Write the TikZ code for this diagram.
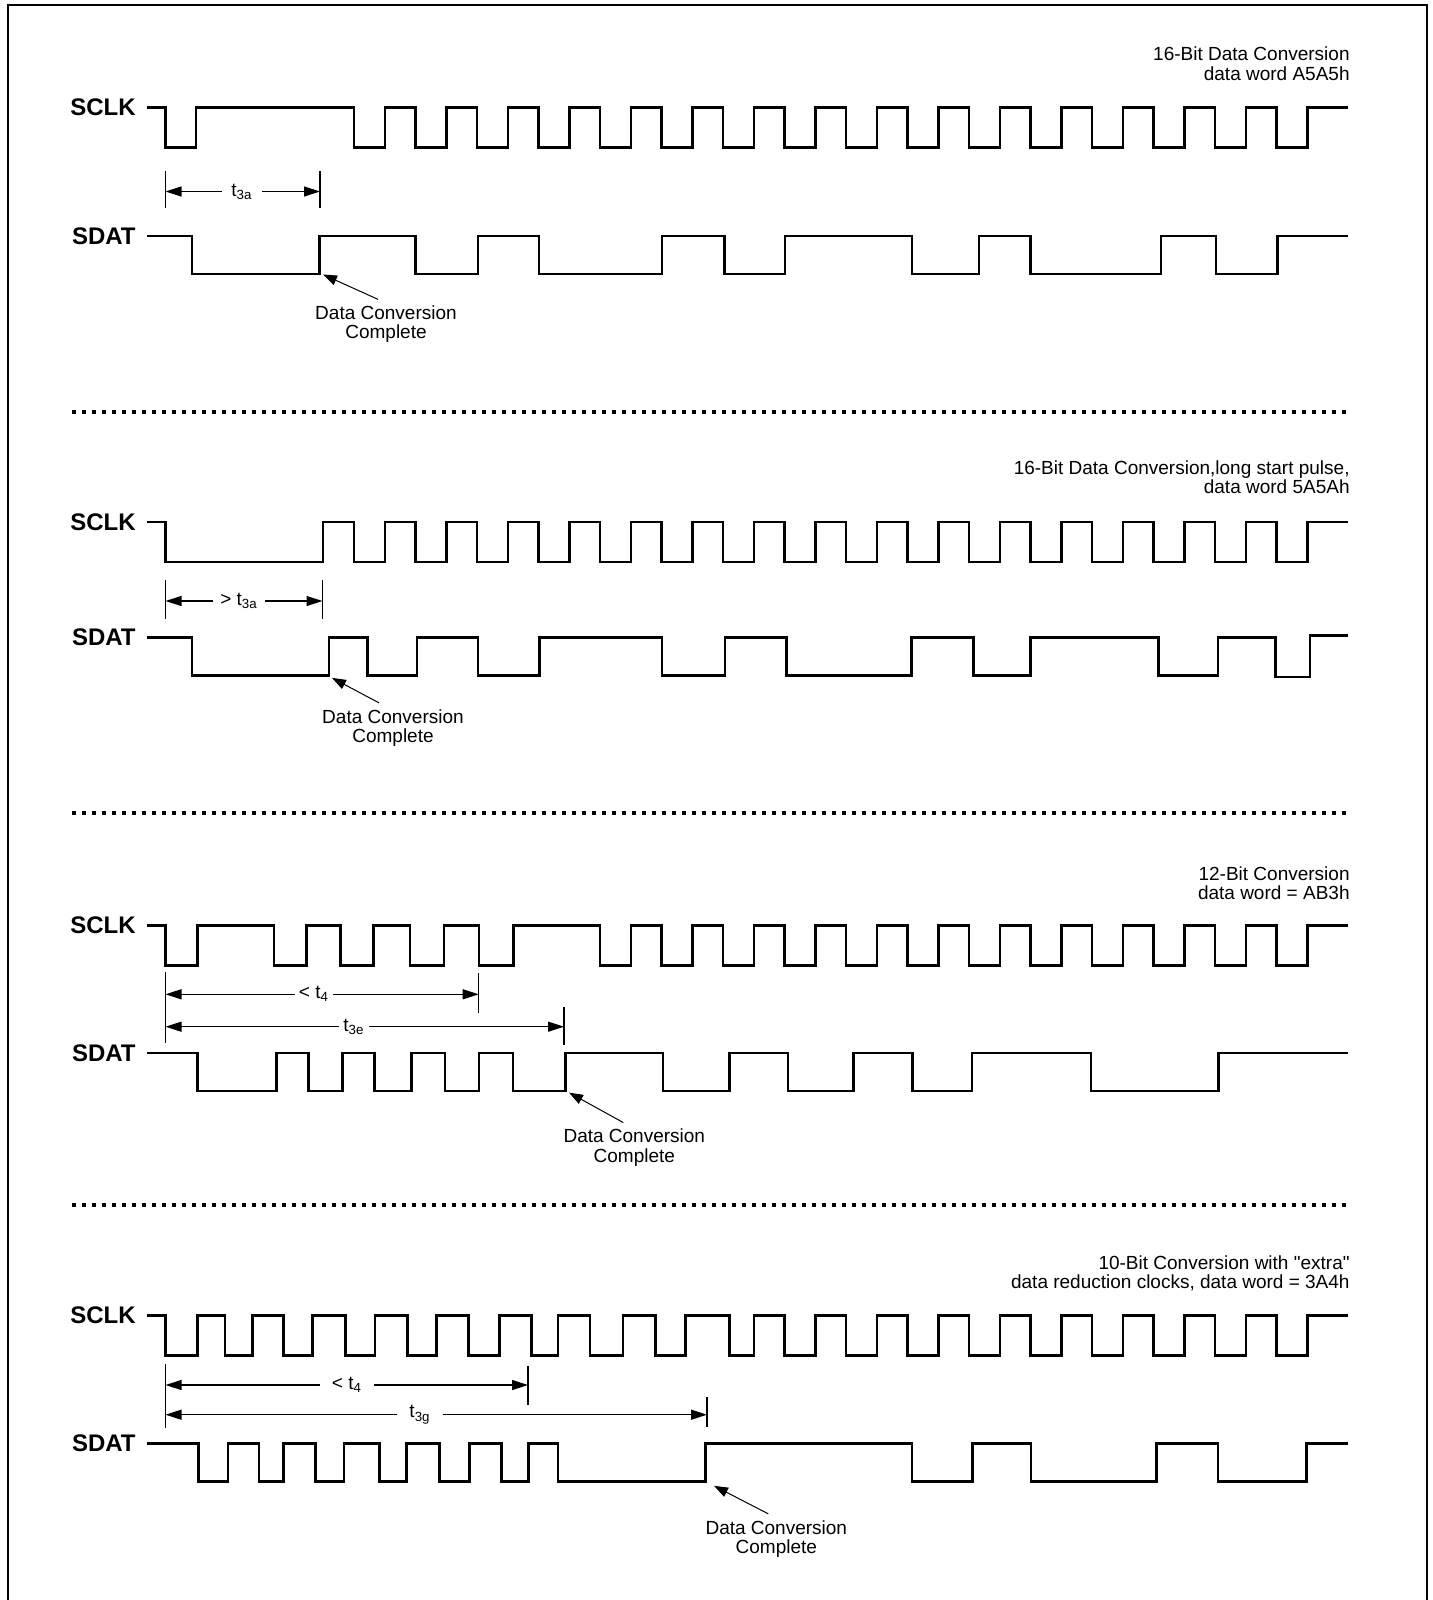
\documentclass[tikz,border=0pt]{standalone}
\usepackage{fontspec}
\setmainfont{Liberation Sans}
\newfontfamily\plainqfont{Liberation Sans}
\usetikzlibrary{arrows.meta,positioning}

\begin{document}
\begin{tikzpicture}[x=0.5pt,y=-0.5pt]

  \tikzstyle{waveline}=[line width=1.3pt,line join=miter]
  \tikzstyle{signame}=[anchor=east,inner sep=5.5pt,
    font=\fontsize{12}{14}\selectfont\bfseries]
  \tikzstyle{notebox}=[align=center,inner sep=1pt,
    font=\fontsize{9.5}{9.7}\selectfont]
  \tikzstyle{titletext}=[align=right,anchor=east,inner sep=0pt,
    font=\fontsize{9.5}{9.7}\selectfont]
  \tikzstyle{dimtext}=[inner ysep=1pt,font=\fontsize{9.5}{11}\selectfont]
  \tikzstyle{tickline}=[line width=0.6pt]
  \tikzstyle{dimline}=[line width=0.65pt,-{Triangle[length=8pt,width=5pt]}]
  \tikzstyle{callout}=[line width=0.5pt,-{Triangle[length=7pt,width=5pt]}]
  \tikzstyle{sepline}=[line width=2pt,dash pattern=on 2pt off 3pt]

  \useasboundingbox (0,0) rectangle (1433,1600);
  \draw[line width=1pt] (8,1610) -- (8,5) -- (1427,5) -- (1427,1610);

  % 16-bit, data word A5A5h
  \node(titleA)[titletext] at (1350,63.8)
    {16-Bit Data Conversion\\data word A5A5h};
  \begin{scope}[shift={(0,107.3)}]
    \node(sclkA)[signame] at (147,0){SCLK};
    \draw[waveline] (sclkA.east) -| (165.5,40) -| (196,0)
      \foreach \k in {0,...,15}{ -| ({354+61.5*\k},40) -| ({385+61.5*\k},0)}
      -- (1348,0);
  \end{scope}
  \begin{scope}[shift={(0,236)}]
    \node(sdatA)[signame] at (147,0){SDAT};
    \draw[waveline] (sdatA.east) -| (192,38) -| (319.7,0) -| (415.7,38)
      -| (478,0) -| (539,38) -| (662,0) -| (724.7,38) -| (785,0)
      -| (911.8,38) -| (979,0) -| (1030.4,38) -| (1161,0) -| (1216,38)
      -| (1277.5,0) -- (1348,0);
    \coordinate (doneA) at (323,38.5);
  \end{scope}
  \draw[tickline] (165.5,171) -- (165.5,208);
  \draw[tickline] (320,171) -- (320,208);
  \coordinate (tAl) at (165.5,191.5);
  \coordinate (tAr) at (320,191.5);
  \node(tA)[dimtext,inner xsep=4.5pt] at (242,191.5){t\textsubscript{3a}};
  \draw[dimline] (tA) -- (tAl);
  \draw[dimline] (tA) -- (tAr);
  \node(noteA)[notebox] at (386,324.3){Data Conversion\\Complete};
  \draw[callout] ([xshift=-4pt,yshift=2pt]noteA.north) -- (doneA);

  \draw[sepline] (71.5,411.6) -- (1348,411.6);

  % 16-bit, long start pulse, data word 5A5Ah
  \node(titleB)[titletext] at (1350,477.5)
    {16-Bit Data Conversion,long start pulse,\\data word 5A5Ah};
  \begin{scope}[shift={(0,522)}]
    \node(sclkB)[signame] at (147,0){SCLK};
    \draw[waveline] (sclkB.east) -| (165.5,40) -| (322.8,0)
      \foreach \k in {0,...,15}{ -| ({354+61.5*\k},40) -| ({385+61.5*\k},0)}
      -- (1348,0);
  \end{scope}
  \begin{scope}[shift={(0,637.4)}]
    \node(sdatB)[signame] at (147,0){SDAT};
    \draw[waveline] (sdatB.east) -| (192,38) -| (329,0) -| (367.7,38)
      -| (416.8,0) -| (478,38) -| (539.3,0) -| (662,38) -| (725,0)
      -| (786.5,38) -| (911.5,0) -| (973.2,38) -| (1030.6,0)
      -| (1158.6,38) -| (1218,0) -| (1275.2,39.5) -| (1310,-2) -- (1348,-2);
    \coordinate (doneB) at (332,40.5);
  \end{scope}
  \draw[tickline] (165.5,580) -- (165.5,619);
  \draw[tickline] (322.5,580) -- (322.5,619);
  \coordinate (tBl) at (165.5,601);
  \coordinate (tBr) at (322.5,601);
  \node(tB)[dimtext,inner xsep=3.5pt] at (239,601){> t\textsubscript{3a}};
  \draw[dimline] (tB) -- (tBl);
  \draw[dimline] (tB) -- (tBr);
  \node(noteB)[notebox] at (393,727.8){Data Conversion\\Complete};
  \draw[callout] ([xshift=-7pt,yshift=2pt]noteB.north) -- (doneB);

  \draw[sepline] (71.5,813) -- (1348,813);

  % 12-bit, data word AB3h
  \node(titleC)[titletext] at (1350,883)
    {12-Bit Conversion\\data word = AB3h};
  \begin{scope}[shift={(0,925.4)}]
    \node(sclkC)[signame] at (147,0){SCLK};
    \draw[waveline] (sclkC.east) -| (165.5,40) -| (197.5,0) -| (274,40)
      -| (306.4,0) -| (340.6,40) -| (373.3,0) -| (410,40) -| (444,0)
      -| (479,40) -| (513.5,0)
      \foreach \k in {4,...,15}{ -| ({354+61.5*\k},40) -| ({385+61.5*\k},0)}
      -- (1348,0);
  \end{scope}
  \begin{scope}[shift={(0,1053.1)}]
    \node(sdatC)[signame] at (147,0){SDAT};
    \draw[waveline] (sdatC.east) -| (197.5,38) -| (276.3,0) -| (308.5,38)
      -| (342.7,0) -| (374.4,38) -| (411.6,0) -| (444.8,38) -| (479,0)
      -| (512.8,38) -| (565.4,0) -| (663,38) -| (729.5,0) -| (788,38)
      -| (853.7,0) -| (912.3,38) -| (972,0) -| (1091,38) -| (1218.3,0)
      -- (1348,0);
    \coordinate (doneC) at (569,39.5);
  \end{scope}
  \draw[tickline] (165.5,972) -- (165.5,1043);
  \draw[tickline] (478.7,973) -- (478.7,1013);
  \draw[tickline] (564,1007) -- (564,1045);
  \coordinate (tC4l) at (165.5,994.3);
  \coordinate (tC4r) at (478.7,994.3);
  \coordinate (tCel) at (165.5,1026.7);
  \coordinate (tCer) at (564,1026.7);
  \node(tC4)[dimtext,inner xsep=2pt] at (314,994.3){< t\textsubscript{4}};
  \node(tCe)[dimtext,inner xsep=2pt] at (354,1026.7){t\textsubscript{3e}};
  \draw[dimline] (tC4) -- (tC4l);
  \draw[dimline] (tC4) -- (tC4r);
  \draw[dimline] (tCe) -- (tCel);
  \draw[dimline] (tCe) -- (tCer);
  \node(noteC)[notebox] at (634.3,1147.5){Data Conversion\\Complete};
  \draw[callout] ([xshift=-5.5pt,yshift=2pt]noteC.north) -- (doneC);

  \draw[sepline] (71.5,1205.3) -- (1348,1205.3);

  % 10-bit with extra data reduction clocks, data word 3A4h
  \node(titleD)[titletext] at (1350,1273.3)
    {10-Bit Conversion with {\plainqfont"}extra{\plainqfont"}\\data reduction clocks, data word = 3A4h};
  \begin{scope}[shift={(0,1315.6)}]
    \node(sclkD)[signame] at (147,0){SCLK};
    \draw[waveline] (sclkD.east) -| (165.5,40) -| (197.2,0) -| (225,40)
      -| (252.5,0) -| (283.5,40) -| (312.3,0) -| (345.5,40) -| (375.1,0)
      -| (407.5,40) -| (436.2,0) -| (468.5,40) -| (499.4,0) -| (531.4,40)
      -| (557.8,0) -| (589.8,40) -| (623,0) -| (655.3,40) -| (685.3,0)
      -| (729.7,40) -| (754,0)
      \foreach \k in {7,...,15}{ -| ({354+61.5*\k},40) -| ({385+61.5*\k},0)}
      -- (1348,0);
  \end{scope}
  \begin{scope}[shift={(0,1443.3)}]
    \node(sdatD)[signame] at (147,0){SDAT};
    \draw[waveline] (sdatD.east) -| (198.2,38) -| (228.1,0) -| (259.1,38)
      -| (283.5,0) -| (315.3,38) -| (344.1,0) -| (379.5,38) -| (406.5,0)
      -| (439.3,38) -| (469.4,0) -| (501.2,38) -| (528.2,0) -| (557.8,38)
      -| (705.3,0) -| (912,38) -| (972.6,0) -| (1031,38) -| (1156.5,0)
      -| (1218,38) -| (1306.5,0) -- (1348,0);
    \coordinate (doneD) at (714,42.5);
  \end{scope}
  \draw[tickline] (165.5,1364) -- (165.5,1428);
  \draw[tickline] (528,1366) -- (528,1404.5);
  \draw[tickline] (707,1397) -- (707,1427);
  \coordinate (tD4l) at (165.5,1385);
  \coordinate (tD4r) at (528,1385);
  \coordinate (tDgl) at (165.5,1414.7);
  \coordinate (tDgr) at (707,1414.7);
  \node(tD4)[dimtext,inner xsep=6pt] at (347,1385){< t\textsubscript{4}};
  \node(tDg)[dimtext,inner xsep=6pt] at (420,1414.7){t\textsubscript{3g}};
  \draw[dimline] (tD4) -- (tD4l);
  \draw[dimline] (tD4) -- (tD4r);
  \draw[dimline] (tDg) -- (tDgl);
  \draw[dimline] (tDg) -- (tDgr);
  \node(noteD)[notebox] at (776.3,1538.8){Data Conversion\\Complete};
  \draw[callout] ([xshift=-4pt,yshift=2pt]noteD.north) -- (doneD);

\end{tikzpicture}
\end{document}
